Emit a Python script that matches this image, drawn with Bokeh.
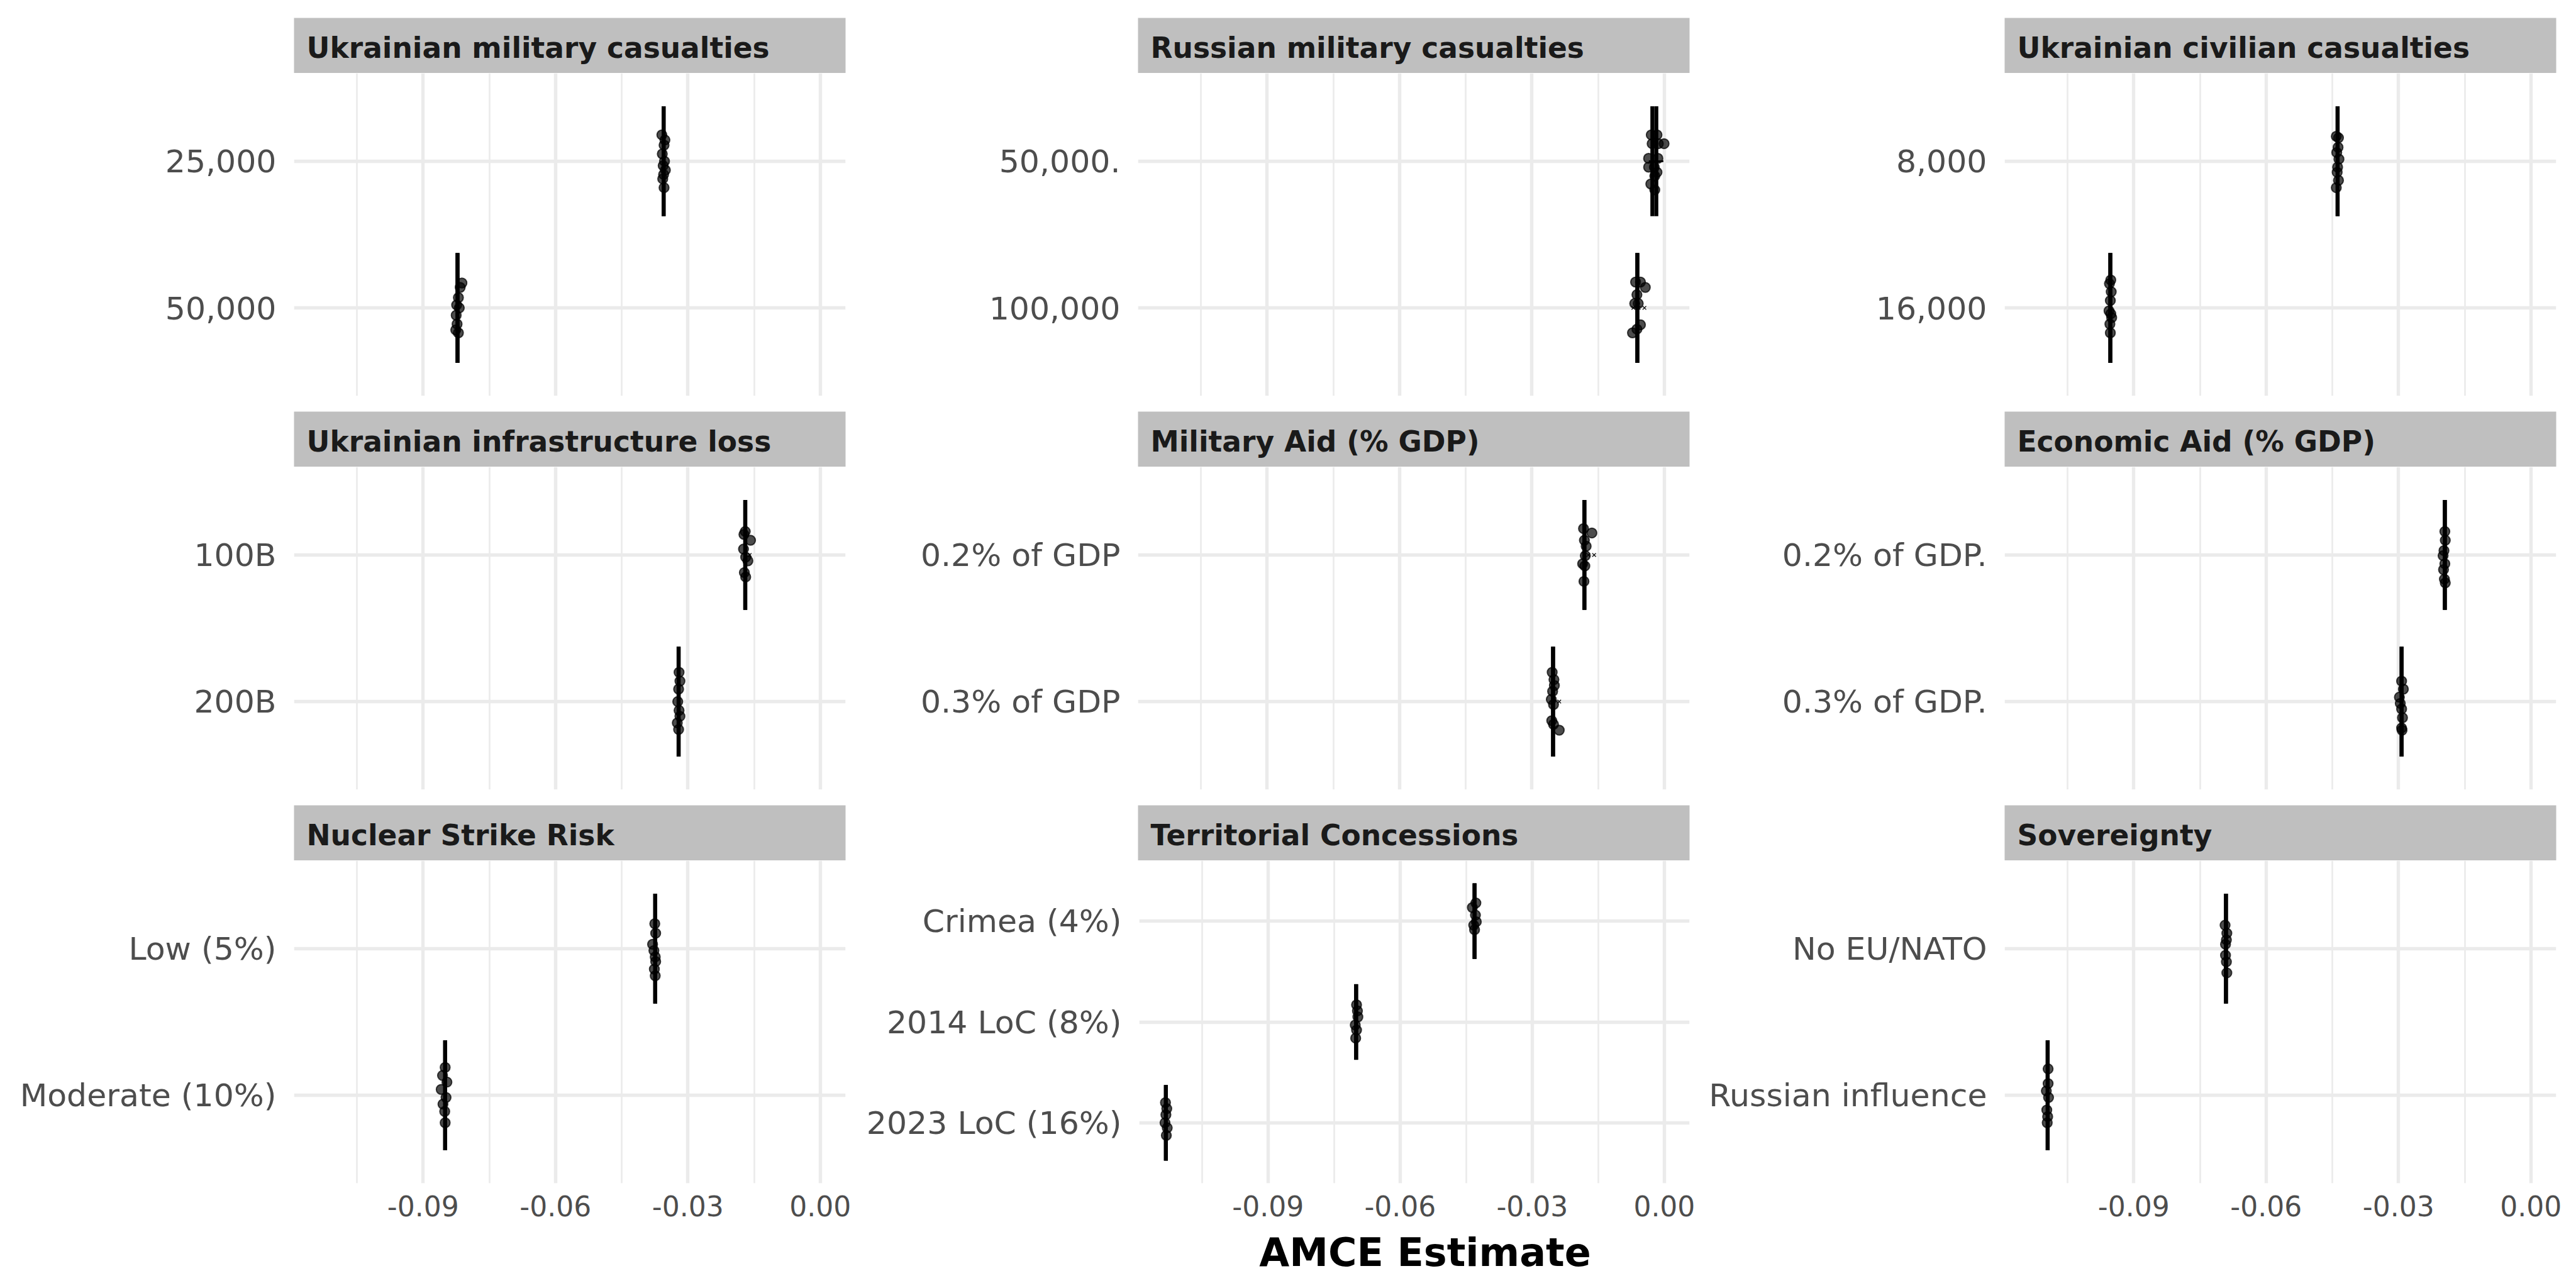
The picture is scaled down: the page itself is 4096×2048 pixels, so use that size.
from bokeh.plotting import figure
from bokeh.models import Range1d, FixedTicker, PrintfTickFormatter, Label
from bokeh.layouts import column, row
from bokeh.core.properties import value
from bokeh.embed import file_html
from bokeh.resources import INLINE

FONT = "DejaVu Sans"

# ---------------- data ----------------
panel_titles = [
    "Ukrainian military casualties", "Russian military casualties", "Ukrainian civilian casualties",
    "Ukrainian infrastructure loss", "Military Aid (% GDP)", "Economic Aid (% GDP)",
    "Nuclear Strike Risk", "Territorial Concessions", "Sovereignty",
]
# levels listed top to bottom
panel_levels = [
    ["25,000", "50,000"],
    ["50,000.", "100,000"],
    ["8,000", "16,000"],
    ["100B", "200B"],
    ["0.2% of GDP", "0.3% of GDP"],
    ["0.2% of GDP.", "0.3% of GDP."],
    ["Low (5%)", "Moderate (10%)"],
    ["Crimea (4%)", "2014 LoC (8%)", "2023 LoC (16%)"],
    ["No EU/NATO", "Russian influence"],
]
# confidence-interval ends (error bar caps)
ci_lo = [
    [-0.0355, -0.0822], [-0.0027, -0.0061], [-0.0438, -0.0953],
    [-0.0170, -0.0321], [-0.0181, -0.0252], [-0.0195, -0.0293],
    [-0.0374, -0.0850], [-0.0431, -0.0700, -0.1132], [-0.0691, -0.1095],
]
ci_hi = [
    [-0.0355, -0.0822], [-0.0018, -0.0061], [-0.0438, -0.0953],
    [-0.0170, -0.0321], [-0.0181, -0.0252], [-0.0195, -0.0293],
    [-0.0374, -0.0850], [-0.0431, -0.0700, -0.1132], [-0.0691, -0.1095],
]
bar_lo = [
    [-0.0355, -0.0822], [-0.0035, -0.0061], [-0.0438, -0.0953],
    [-0.0170, -0.0321], [-0.0181, -0.0252], [-0.0195, -0.0293],
    [-0.0374, -0.0850], [-0.0431, -0.0700, -0.1132], [-0.0691, -0.1095],
]
bar_hi = [
    [-0.0355, -0.0822], [-0.0002, -0.0061], [-0.0438, -0.0953],
    [-0.0170, -0.0321], [-0.0181, -0.0252], [-0.0195, -0.0293],
    [-0.0374, -0.0850], [-0.0431, -0.0700, -0.1132], [-0.0691, -0.1095],
]
# individual estimates: vertical offset (downward, in level units) and horizontal offset from the CI centre
pt_dy = [
    [[-0.18, -0.145, -0.11, -0.05, 0.0, 0.03, 0.06, 0.09, 0.12, 0.18],
     [-0.17, -0.14, -0.07, -0.02, 0.0, 0.05, 0.11, 0.15, 0.17]],
    [[-0.18, -0.18, -0.12, -0.12, -0.12, -0.02, -0.02, 0.04, 0.04, 0.075, 0.10, 0.155, 0.195],
     [-0.176, -0.176, -0.14, -0.09, -0.03, -0.03, 0.115, 0.145, 0.17]],
    [[-0.17, -0.16, -0.095, -0.06, -0.015, 0.04, 0.075, 0.13, 0.18],
     [-0.19, -0.165, -0.11, -0.05, 0.02, 0.04, 0.066, 0.11, 0.17]],
    [[-0.16, -0.14, -0.10, -0.04, 0.015, 0.04, 0.12, 0.15],
     [-0.2, -0.14, -0.085, 0.0, 0.06, 0.1, 0.145, 0.19]],
    [[-0.18, -0.15, -0.1, -0.06, 0.005, 0.06, 0.075, 0.18],
     [-0.2, -0.15, -0.11, -0.07, -0.015, 0.02, 0.13, 0.155, 0.195]],
    [[-0.16, -0.1, -0.03, 0.005, 0.06, 0.1, 0.165, 0.19],
     [-0.14, -0.085, -0.03, 0.012, 0.05, 0.11, 0.18, 0.195]],
    [[-0.17, -0.105, -0.03, 0.013, 0.056, 0.088, 0.14, 0.185],
     [-0.19, -0.135, -0.09, -0.04, 0.015, 0.06, 0.11, 0.187]],
    [[-0.18, -0.135, -0.06, 0.006, 0.04, 0.085],
     [-0.17, -0.11, -0.05, 0.03, 0.08, 0.16],
     [-0.2, -0.14, -0.08, 0.0, 0.05, 0.125]],
    [[-0.16, -0.105, -0.06, -0.03, 0.045, 0.09, 0.165],
     [-0.18, -0.08, -0.03, 0.015, 0.1, 0.145, 0.187]],
]
pt_dx = [
    [[-0.0004, 0.0003, 0.0001, -0.0003, 0.0002, -0.0001, 0.0004, 0.0, -0.0002, 0.0001],
     [0.0010, 0.0006, 0.0002, -0.0002, 0.0004, -0.0003, -0.0001, -0.0004, 0.0002]],
    [[-0.0007, 0.0006, -0.0005, 0.0009, 0.0022, -0.0013, 0.0008, -0.0013, 0.0, 0.0006, 0.0001, -0.0008, 0.0001],
     [-0.0004, 0.0007, 0.0018, -0.0001, -0.0006, 0.0002, 0.0007, -0.0001, -0.0011]],
    [[-0.0003, 0.0002, 0.0001, -0.0002, 0.0003, 0.0, -0.0001, 0.0002, -0.0003],
     [0.0001, -0.0002, 0.0002, 0.0, -0.0003, 0.0001, 0.0003, -0.0001, 0.0]],
    [[0.0, -0.0003, 0.0012, -0.0004, 0.0001, 0.0006, -0.0002, 0.0001],
     [0.0001, 0.0003, 0.0, -0.0002, 0.0001, 0.0003, -0.0003, 0.0]],
    [[-0.0002, 0.0017, 0.0, 0.0004, 0.0002, -0.0004, 0.0001, -0.0001],
     [-0.0002, 0.0002, 0.0003, -0.0001, -0.0004, 0.0001, -0.0003, 0.0001, 0.0014]],
    [[0.0, 0.0001, -0.0002, -0.0004, 0.0, -0.0003, -0.0001, 0.0001],
     [0.0, 0.0004, -0.0005, -0.0003, 0.0, 0.0002, 0.0, 0.0001]],
    [[-0.0001, 0.0001, -0.0006, -0.0003, 0.0, 0.0001, -0.0002, 0.0],
     [0.0, -0.0006, 0.0004, -0.0009, 0.0002, -0.0005, -0.0001, 0.0]],
    [[0.0003, -0.0005, 0.0002, 0.0004, -0.0002, 0.0],
     [0.0001, 0.0003, 0.0004, -0.0002, 0.0001, -0.0001],
     [-0.0001, 0.0002, 0.0, -0.0002, 0.0003, 0.0001]],
    [[-0.0002, 0.0002, 0.0001, -0.0001, -0.0001, 0.0001, 0.0002],
     [0.0001, 0.0001, -0.0003, 0.0002, -0.0002, 0.0, -0.0001]],
]
# small cross markers at level centre
x_marks = [
    [[], []], [[], [-0.0070, -0.0058, -0.0045]], [[], []],
    [[-0.0160], []], [[-0.0172, -0.0159], [-0.0238]], [[], []],
    [[], []], [[], [], []], [[], []],
]

x_major = [-0.09, -0.06, -0.03, 0.0]
x_minor = [-0.105, -0.075, -0.045, -0.015]
x_start, x_end = -0.11925, 0.00573
x_axis_title = "AMCE Estimate"

# ---------------- layout constants (px) ----------------
COL_L = [467, 435, 481]
COL_R = [30, 20, 32]
FRAME_W = 877
FRAME_H = 513
STRIP_H = 88
TOP = 28
GAP = 25
XAX = 72
TOTAL_W = 4096
TOTAL_H = 2048
CAP_HALF = 0.375

GRID_C = "#EBEBEB"
STRIP_FILL = "#BFBFBF"
TICK_C = "#4D4D4D"

xr = Range1d(x_start, x_end)


def base_fig(col, height, top, bottom, xrange, yrange):
    return figure(width=COL_L[col] + FRAME_W + COL_R[col], height=height,
                  x_range=xrange, y_range=yrange, toolbar_location=None,
                  output_backend="svg", min_border_left=COL_L[col],
                  min_border_right=COL_R[col], min_border_top=top,
                  min_border_bottom=bottom)


def make_strip(i, col, top):
    s = base_fig(col, STRIP_H + top, top, 0, Range1d(0, 1), Range1d(0, 1))
    s.axis.visible = False
    s.grid.visible = False
    s.outline_line_color = None
    s.background_fill_color = STRIP_FILL
    s.border_fill_color = "white"
    s.add_layout(Label(x=0, y=0.455, x_offset=20, text=panel_titles[i],
                       text_font=FONT, text_font_style="bold", text_font_size="45.5px",
                       text_color="#1A1A1A", text_baseline="alphabetic"))
    return s


def make_panel(i, col, bottom, show_x):
    levels = panel_levels[i]
    n = len(levels)
    ypos = [n - k for k in range(n)]
    p = base_fig(col, FRAME_H + bottom, 0, bottom, xr, Range1d(0.4, n + 0.6))
    p.outline_line_color = None
    p.background_fill_color = "white"
    p.border_fill_color = "white"

    xt = FixedTicker(ticks=x_major, minor_ticks=x_minor)
    yt = FixedTicker(ticks=ypos)
    p.xaxis.ticker = xt
    p.xgrid.ticker = xt
    p.yaxis.ticker = yt
    p.ygrid.ticker = yt

    p.xgrid.grid_line_color = GRID_C
    p.xgrid.grid_line_width = 5.4
    p.xgrid.minor_grid_line_color = GRID_C
    p.xgrid.minor_grid_line_width = 2.7
    p.ygrid.grid_line_color = GRID_C
    p.ygrid.grid_line_width = 5.4

    for ax in (p.xaxis[0], p.yaxis[0]):
        ax.axis_line_color = None
        ax.major_tick_line_color = None
        ax.minor_tick_line_color = None
        ax.major_tick_out = 0
        ax.minor_tick_out = 0
        ax.major_label_text_font = FONT
        ax.major_label_text_color = TICK_C

    p.yaxis.major_label_overrides = {y: lab for y, lab in zip(ypos, levels)}
    p.yaxis.major_label_text_font_size = "50.5px"
    p.yaxis.major_label_standoff = 28

    p.xaxis.formatter = PrintfTickFormatter(format="%.2f")
    p.xaxis.major_label_text_font_size = "44px"
    p.xaxis.major_label_standoff = 19
    p.xaxis.visible = show_x

    # individual estimates
    xs, ys = [], []
    for k in range(n):
        c = (ci_lo[i][k] + ci_hi[i][k]) / 2.0
        for dx, dy in zip(pt_dx[i][k], pt_dy[i][k]):
            xs.append(c + dx)
            ys.append(ypos[k] - dy)
    p.scatter(x=xs, y=ys, marker="circle", size=15.5, fill_color="black", fill_alpha=0.7,
              line_color="black", line_alpha=0.72, line_width=2)

    # error bars (caps drawn vertically)
    y0 = [y - CAP_HALF for y in ypos]
    y1 = [y + CAP_HALF for y in ypos]
    p.segment(x0=ci_lo[i], y0=y0, x1=ci_lo[i], y1=y1, line_color="black", line_width=6.3)
    p.segment(x0=ci_hi[i], y0=y0, x1=ci_hi[i], y1=y1, line_color="black", line_width=6.3)
    p.segment(x0=bar_lo[i], y0=ypos, x1=bar_hi[i], y1=ypos, line_color="black", line_width=2.8)

    mx, my = [], []
    for k in range(n):
        for v in x_marks[i][k]:
            mx.append(v)
            my.append(ypos[k])
    if mx:
        p.scatter(x=mx, y=my, marker="x", size=8, line_color="black", line_width=1.2)
    return p


rows = []
used_h = 0
for r in range(3):
    top = TOP if r == 0 else 0
    rows.append(row(*[make_strip(3 * r + c, c, top) for c in range(3)]))
    bottom = XAX if r == 2 else GAP
    rows.append(row(*[make_panel(3 * r + c, c, bottom, r == 2) for c in range(3)]))
    used_h += STRIP_H + top + FRAME_H + bottom

title_h = TOTAL_H - used_h
t = figure(width=TOTAL_W, height=title_h, x_range=Range1d(0, 1), y_range=Range1d(0, title_h),
           toolbar_location=None, output_backend="svg", min_border_left=COL_L[0],
           min_border_right=COL_R[2], min_border_top=0, min_border_bottom=0)
t.axis.visible = False
t.grid.visible = False
t.outline_line_color = None
t.text(x=[0.5], y=[57], text=[x_axis_title], text_font=value(FONT), text_font_style="bold",
       text_font_size="62px", text_align="center", text_baseline="alphabetic", text_color="black")
rows.append(t)

layout = column(*rows)
open("out.html", "w").write(file_html(layout, INLINE, "AMCE"))
